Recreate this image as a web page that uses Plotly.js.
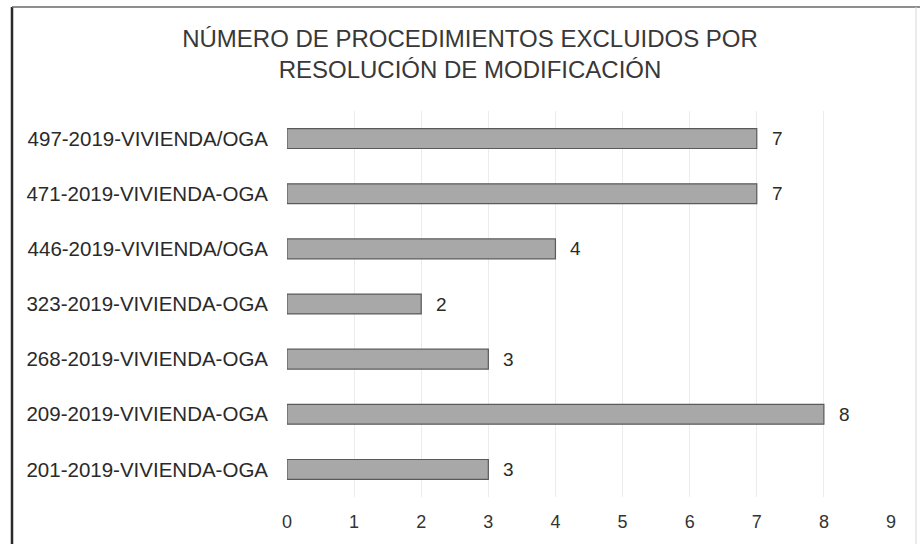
<!DOCTYPE html>
<html>
<head>
<meta charset="utf-8">
<script src="https://cdn.plot.ly/plotly-3.0.1.min.js"></script>
<style>html,body{margin:0;padding:0;background:#fff;}#chart{width:920px;height:544px;}</style>
</head>
<body>
<div id="chart"></div>
<script>
const categories = [
  '201-2019-VIVIENDA-OGA',
  '209-2019-VIVIENDA-OGA',
  '268-2019-VIVIENDA-OGA',
  '323-2019-VIVIENDA-OGA',
  '446-2019-VIVIENDA/OGA',
  '471-2019-VIVIENDA-OGA',
  '497-2019-VIVIENDA/OGA'
];
const values = [3, 8, 3, 2, 4, 7, 7];
const xTicks = [0, 1, 2, 3, 4, 5, 6, 7, 8, 9];
const titleText = 'NÚMERO DE PROCEDIMIENTOS EXCLUIDOS POR<br>RESOLUCIÓN DE MODIFICACIÓN';

const font = 'Liberation Sans, Arial, sans-serif';

const trace = {
  type: 'bar',
  orientation: 'h',
  y: categories,
  x: values,
  width: 0.36,
  marker: {color: '#a8a8a8', line: {color: '#5a5a5a', width: 1.2}},
  hoverinfo: 'none'
};

const annotations = values.map((v, i) => ({
  x: v, y: categories[i], xref: 'x', yref: 'y',
  text: String(v), showarrow: false, xanchor: 'left', xshift: 13,
  font: {family: font, size: 19, color: '#2a2a2a'}
}));

const PW = 604, PH = 386;
const layout = {
  width: 920, height: 544,
  paper_bgcolor: '#ffffff', plot_bgcolor: '#ffffff',
  margin: {l: 287, r: 29, t: 111, b: 47},
  title: {
    text: titleText,
    font: {family: font, size: 24, color: '#383838'},
    x: 470 / 920, xref: 'container', xanchor: 'center',
    y: 1 - 47 / 544, yref: 'container', yanchor: 'top'
  },
  showlegend: false,
  xaxis: {
    range: [0, 9], tickvals: xTicks, ticktext: xTicks.map(String),
    showgrid: true, gridcolor: '#ececec', gridwidth: 1,
    zeroline: false, showline: false, ticks: '',
    tickfont: {family: font, size: 18, color: '#333'},
    ticklabelstandoff: 12, fixedrange: true
  },
  yaxis: {
    type: 'category', categoryorder: 'array', categoryarray: categories,
    range: [-0.5, categories.length - 0.5],
    showgrid: false, zeroline: false, showline: false, ticks: '',
    tickfont: {family: font, size: 20.5, color: '#2a2a2a'},
    ticklabelstandoff: 18, fixedrange: true
  },
  annotations: annotations,
  shapes: [
    {type: 'line', xref: 'paper', yref: 'paper', x0: -275/PW, x1: -275/PW, y0: -47/PH, y1: 1 + 104/PH, line: {color: '#2a2a2a', width: 2.5}},
    {type: 'line', xref: 'paper', yref: 'paper', x0: -275/PW, x1: 1 + 29/PW, y0: 1 + 104/PH, y1: 1 + 104/PH, line: {color: '#6a6a6a', width: 1.5}},
    {type: 'line', xref: 'paper', yref: 'paper', x0: 1 + 25/PW, x1: 1 + 25/PW, y0: -47/PH, y1: 1 + 104/PH, line: {color: '#d8d8d8', width: 1}}
  ]
};

Plotly.newPlot('chart', [trace], layout, {displayModeBar: false, staticPlot: true});
</script>
</body>
</html>
